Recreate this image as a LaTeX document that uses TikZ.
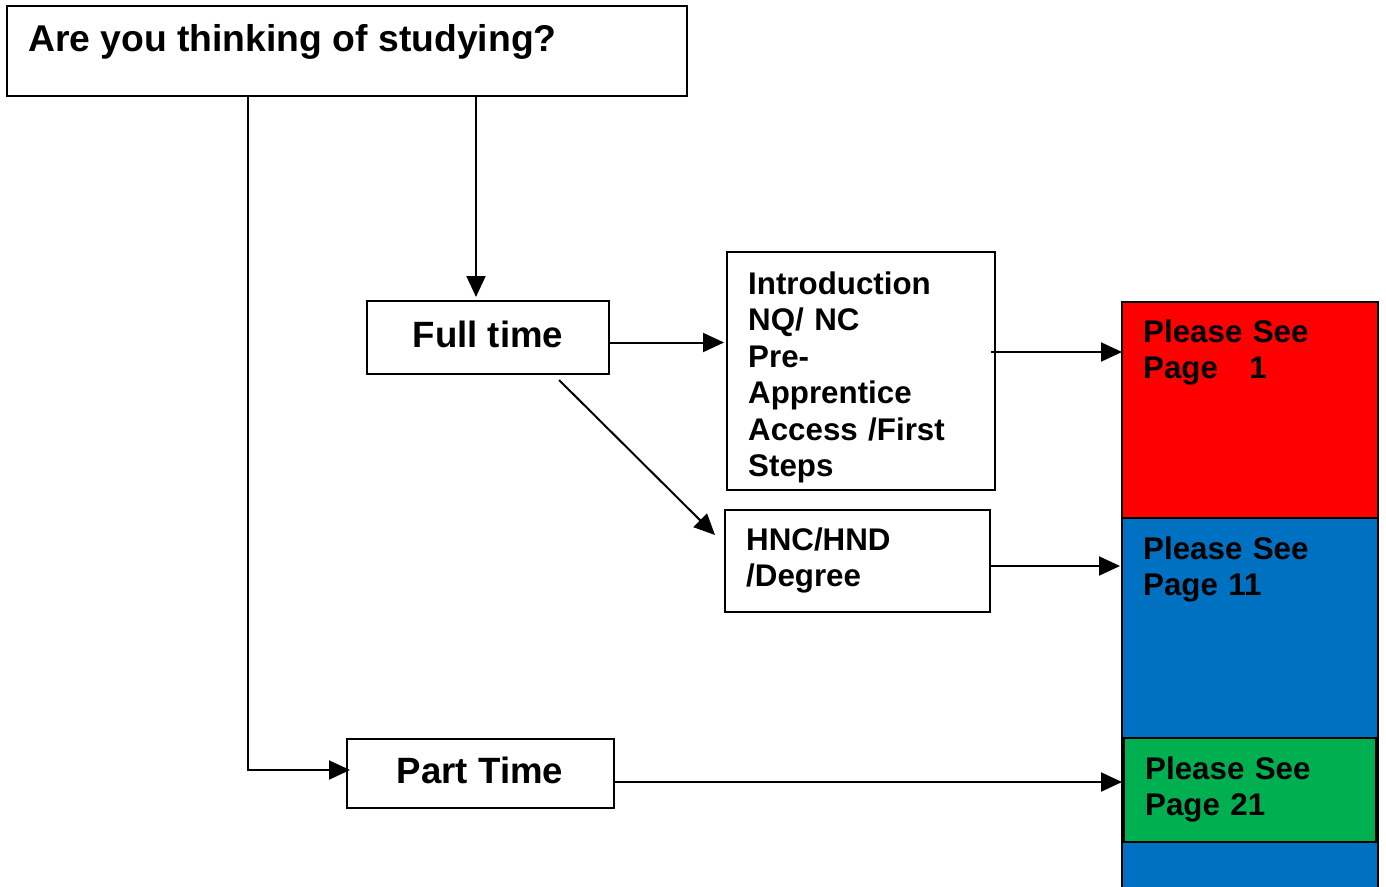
\documentclass[tikz,border=0pt]{standalone}
\usepackage{fontspec}
\setmainfont{Liberation Sans}
\usetikzlibrary{arrows.meta,calc}
\definecolor{redbox}{RGB}{255,0,0}
\definecolor{bluebox}{RGB}{0,112,192}
\definecolor{greenbox}{RGB}{0,176,80}
\begin{document}
\begin{tikzpicture}[x=1pt,y=-1pt,
 box/.style={draw=black,line width=2pt,inner sep=0pt,outer sep=0pt,anchor=north west},
 big/.style={font=\fontsize{36.6}{41}\selectfont\bfseries,inner sep=0pt},
 title/.style={font=\fontsize{37.3}{42}\selectfont\bfseries,inner sep=0pt},
 mid/.style={font=\fontsize{31.3}{36.5}\selectfont\bfseries,inner sep=0pt,anchor=base west,text width=240pt,align=left},
 arr/.style={line width=2pt,-{Triangle[length=21pt,width=19pt]}},
 ln/.style={line width=2pt}]
\useasboundingbox (0,0) rectangle (1386,886);

% boxes
\node[box,minimum width=680pt,minimum height=90pt] (q) at (7,6) {};
\node[title,anchor=base west] (qt) at (28,51) {Are you thinking of studying?};

\node[box,minimum width=242pt,minimum height=73pt] (ft) at (367,301) {};
\node[big,anchor=base] (ftt) at (488,347) {Full time};

\node[box,minimum width=268pt,minimum height=238pt] (intro) at (727,252) {};
\node[mid] (introt) at (748,294) {Introduction\\NQ/ NC\\Pre-\\Apprentice\\Access /First\\Steps};

\node[box,minimum width=265pt,minimum height=102pt] (hnc) at (725,510) {};
\node[mid] (hnct) at (746,550) {HNC/HND\\/Degree};

\node[box,minimum width=267pt,minimum height=69pt] (pt) at (347,739) {};
\node[big,anchor=base] (ptt) at (480,783) {Part Time};

\node[box,fill=redbox,minimum width=256pt,minimum height=216pt] (red) at (1122,302) {};
\node[box,fill=bluebox,minimum width=256pt,minimum height=380pt] (blue) at (1122,518) {};
\node[box,fill=greenbox,minimum width=252pt,minimum height=104pt] (green) at (1124,738) {};

\node[mid] (redt) at (1143,342) {Please See\\Page\ \ \ 1};
\node[mid] (bluet) at (1143,559) {Please See\\Page 11};
\node[mid] (greent) at (1145,779) {Please See\\Page 21};

% connectors
\draw[arr] ($(q.south west)+(469,0)$) -- ($(ft.north west)+(109,-4)$);
\draw[arr] ($(q.south west)+(241,0)$) |- ($(pt.north west)+(3,31)$);
\draw[arr] ($(ft.north east)+(0,41.5)$) -- ($(intro.north west)+(-3,90.5)$);
\draw[arr] ($(ft.south west)+(192,6)$) -- ($(hnc.north west)+(-10,25)$);
\draw[arr] ($(intro.north east)+(-4,100)$) -- ($(red.north west)+(0,50)$);
\draw[arr] ($(hnc.north east)+(-1,56)$) -- ($(blue.north west)+(-2,48)$);
\draw[arr] ($(pt.north east)+(0,43)$) -- ($(green.north west)+(-2,44)$);
\end{tikzpicture}
\end{document}
